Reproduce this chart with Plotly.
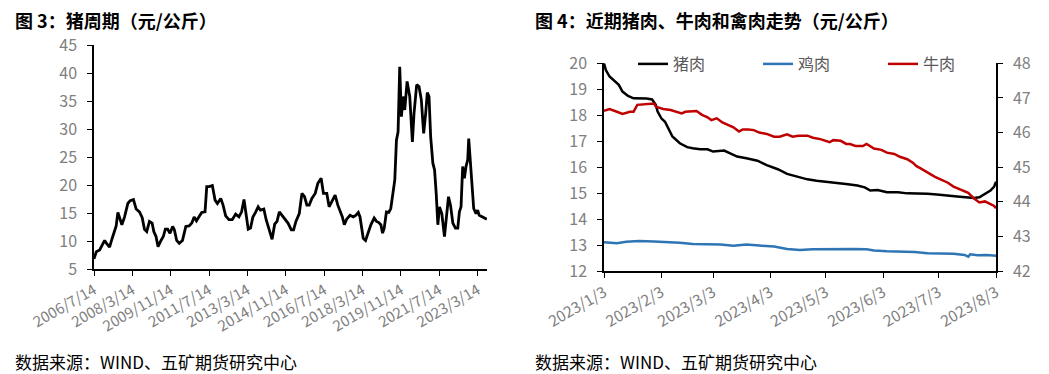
import plotly.graph_objects as go

# ---------------- Left chart: 猪周期 ----------------
pig_dates = [
    "2006-07-14", "2006-08-20", "2006-10-12", "2006-12-04", "2006-12-30", "2007-01-26", "2007-03-18",
    "2007-04-29", "2007-06-05", "2007-07-01", "2007-07-28", "2007-08-23", "2007-09-29", "2007-11-11",
    "2008-01-02", "2008-02-08", "2008-03-31", "2008-05-13", "2008-07-04", "2008-08-16", "2008-09-22",
    "2008-10-28", "2008-12-10", "2009-01-21", "2009-02-17", "2009-03-24", "2009-04-25", "2009-06-11",
    "2009-07-18", "2009-08-19", "2009-09-25", "2009-11-01", "2009-12-13", "2010-01-09", "2010-02-15",
    "2010-03-27", "2010-05-18", "2010-07-10", "2010-08-31", "2010-10-13", "2010-11-19", "2010-12-26",
    "2011-02-07", "2011-03-19", "2011-05-11", "2011-06-07", "2011-07-14", "2011-09-04", "2011-10-17",
    "2011-11-23", "2012-01-15", "2012-02-21", "2012-04-02", "2012-05-24", "2012-07-16", "2012-09-07",
    "2012-10-30", "2012-12-11", "2013-01-18", "2013-02-24", "2013-03-26", "2013-05-02", "2013-06-08",
    "2013-07-20", "2013-08-31", "2013-10-07", "2013-11-29", "2014-01-05", "2014-02-16", "2014-04-09",
    "2014-05-20", "2014-06-26", "2014-08-02", "2014-09-14", "2014-10-26", "2014-12-17", "2015-02-08",
    "2015-03-16", "2015-04-22", "2015-06-14", "2015-07-26", "2015-09-06", "2015-10-13", "2015-11-19",
    "2015-12-31", "2016-02-22", "2016-04-04", "2016-05-26", "2016-07-02", "2016-08-24", "2016-09-30",
    "2016-11-11", "2017-01-03", "2017-02-15", "2017-03-22", "2017-04-28", "2017-05-29", "2017-07-05",
    "2017-08-27", "2017-10-19", "2017-11-30", "2018-01-06", "2018-02-02", "2018-02-28", "2018-03-25",
    "2018-05-01", "2018-06-13", "2018-07-24", "2018-09-15", "2018-10-22", "2018-11-28", "2018-12-30",
    "2019-01-26", "2019-02-21", "2019-03-28", "2019-05-04", "2019-06-05", "2019-07-12", "2019-08-08",
    "2019-09-03", "2019-09-29", "2019-10-25", "2019-11-21", "2019-12-17", "2020-01-13", "2020-02-19",
    "2020-04-01", "2020-05-13", "2020-06-08", "2020-07-20", "2020-08-26", "2020-10-02", "2020-11-08",
    "2020-12-10", "2021-01-05", "2021-02-01", "2021-02-27", "2021-04-03", "2021-04-30", "2021-05-26",
    "2021-06-21", "2021-07-17", "2021-08-23", "2021-10-04", "2021-10-31", "2021-12-07", "2022-01-08",
    "2022-02-14", "2022-03-27", "2022-05-03", "2022-05-29", "2022-06-24", "2022-07-20", "2022-08-16",
    "2022-09-11", "2022-10-08", "2022-10-24", "2022-11-19", "2022-12-16", "2023-01-11", "2023-02-17",
    "2023-03-14", "2023-04-09", "2023-06-01", "2023-08-08",
]
pig_price = [
    6.8, 8.1, 8.4, 9.6, 10.1, 9.6, 8.9,
    10.5, 12.0, 12.7, 15.1, 14.3, 12.9, 14.3,
    16.7, 17.2, 17.4, 15.7, 15.2, 14.2, 12.1,
    11.7, 13.5, 13.2, 11.7, 10.8, 9.0, 10.1,
    10.8, 12.1, 12.1, 11.4, 12.6, 12.0, 10.1,
    9.6, 10.1, 12.6, 12.7, 13.2, 14.3, 13.6,
    14.5, 15.1, 15.2, 19.7, 19.7, 19.9, 17.3,
    16.7, 17.6, 16.4, 14.5, 13.8, 13.8, 14.8,
    14.3, 15.2, 17.4, 14.6, 12.1, 12.3, 14.3,
    15.1, 16.1, 15.5, 15.7, 13.8, 12.1, 10.3,
    13.0, 13.5, 15.2, 14.6, 13.9, 13.2, 12.0,
    12.0, 13.5, 14.9, 18.5, 17.9, 16.4, 16.4,
    17.6, 18.5, 20.3, 21.2, 18.5, 18.5, 16.1,
    17.0, 18.2, 16.4, 15.5, 14.3, 12.9, 13.9,
    14.6, 14.3, 14.6, 15.1, 14.3, 12.6, 10.5,
    10.1, 11.4, 12.9, 14.1, 13.5, 13.3, 12.9,
    11.4, 12.3, 15.2, 15.1, 15.8, 19.1, 20.9,
    28.0, 29.5, 41.1, 32.2, 35.8, 33.4, 38.5,
    35.8, 27.7, 32.8, 37.9, 37.6, 35.2, 29.2,
    32.8, 36.5, 35.8, 28.6, 23.9, 22.7, 18.5,
    12.9, 16.1, 14.9, 10.8, 14.3, 17.9, 16.4,
    13.2, 12.3, 12.3, 15.2, 16.1, 23.3, 21.2,
    23.3, 24.5, 28.3, 24.2, 21.5, 15.8, 14.9,
    15.5, 14.6, 14.3, 13.9,
]
left_tickvals = ["2006-07-14", "2008-03-14", "2009-11-14", "2011-07-14", "2013-03-14", "2014-11-14",
                 "2016-07-14", "2018-03-14", "2019-11-14", "2021-07-14", "2023-03-14"]
left_ticktext = ["2006/7/14", "2008/3/14", "2009/11/14", "2011/7/14", "2013/3/14", "2014/11/14",
                 "2016/7/14", "2018/3/14", "2019/11/14", "2021/7/14", "2023/3/14"]

# ---------------- Right chart: 猪肉 / 鸡肉 / 牛肉 ----------------
pork_dates = [
    "2023-01-03", "2023-01-04", "2023-01-06", "2023-01-09", "2023-01-11", "2023-01-13", "2023-01-16",
    "2023-01-19", "2023-01-22", "2023-01-26", "2023-01-29", "2023-01-31", "2023-02-01", "2023-02-03",
    "2023-02-05", "2023-02-07", "2023-02-09", "2023-02-13", "2023-02-17", "2023-02-20", "2023-02-24",
    "2023-02-28", "2023-03-03", "2023-03-09", "2023-03-12", "2023-03-16", "2023-03-21", "2023-03-27",
    "2023-04-01", "2023-04-07", "2023-04-12", "2023-04-17", "2023-04-23", "2023-04-28", "2023-05-04",
    "2023-05-09", "2023-05-15", "2023-05-20", "2023-05-24", "2023-05-27", "2023-05-31", "2023-06-05",
    "2023-06-11", "2023-06-16", "2023-06-22", "2023-06-27", "2023-07-02", "2023-07-08", "2023-07-13",
    "2023-07-19", "2023-07-22", "2023-07-25", "2023-07-28", "2023-07-31", "2023-08-02", "2023-08-03",
]
pork_price = [
    20.0, 19.74, 19.49, 19.29, 19.17, 18.91, 18.74,
    18.65, 18.65, 18.64, 18.61, 18.40, 18.14, 17.88,
    17.75, 17.46, 17.18, 16.92, 16.77, 16.73, 16.69,
    16.69, 16.60, 16.64, 16.53, 16.41, 16.34, 16.25,
    16.08, 15.92, 15.74, 15.64, 15.53, 15.48, 15.44,
    15.38, 15.34, 15.29, 15.22, 15.10, 15.12, 15.03,
    15.03, 14.99, 14.99, 14.98, 14.95, 14.92, 14.87,
    14.83, 14.81, 14.84, 14.97, 15.10, 15.25, 15.44,
]
chicken_dates = [
    "2023-01-03", "2023-01-10", "2023-01-15", "2023-01-22", "2023-01-30", "2023-02-06", "2023-02-13",
    "2023-02-20", "2023-02-28", "2023-03-07", "2023-03-14", "2023-03-21", "2023-03-28", "2023-04-05",
    "2023-04-12", "2023-04-19", "2023-04-26", "2023-05-04", "2023-05-11", "2023-05-18", "2023-05-25",
    "2023-05-29", "2023-06-05", "2023-06-12", "2023-06-20", "2023-06-27", "2023-07-04", "2023-07-11",
    "2023-07-17", "2023-07-19", "2023-07-20", "2023-07-24", "2023-07-29", "2023-08-03",
]
chicken_price = [
    13.11, 13.07, 13.13, 13.16, 13.14, 13.12, 13.09,
    13.04, 13.04, 13.02, 12.97, 13.02, 12.98, 12.94,
    12.85, 12.81, 12.84, 12.85, 12.85, 12.85, 12.84,
    12.79, 12.76, 12.75, 12.73, 12.68, 12.68, 12.66,
    12.62, 12.55, 12.64, 12.61, 12.62, 12.59,
]
beef_dates = [
    "2023-01-03", "2023-01-06", "2023-01-10", "2023-01-13", "2023-01-17", "2023-01-19", "2023-01-21",
    "2023-01-24", "2023-01-28", "2023-01-30", "2023-01-31", "2023-02-04", "2023-02-08", "2023-02-11",
    "2023-02-14", "2023-02-16", "2023-02-19", "2023-02-22", "2023-02-25", "2023-02-28", "2023-03-02",
    "2023-03-05", "2023-03-08", "2023-03-10", "2023-03-14", "2023-03-17", "2023-03-19", "2023-03-22",
    "2023-03-25", "2023-03-28", "2023-04-01", "2023-04-05", "2023-04-08", "2023-04-12", "2023-04-15",
    "2023-04-18", "2023-04-23", "2023-04-26", "2023-04-30", "2023-05-05", "2023-05-07", "2023-05-11",
    "2023-05-14", "2023-05-16", "2023-05-19", "2023-05-23", "2023-05-25", "2023-05-29", "2023-06-02",
    "2023-06-05", "2023-06-09", "2023-06-12", "2023-06-16", "2023-06-19", "2023-06-21", "2023-06-23",
    "2023-06-27", "2023-07-01", "2023-07-04", "2023-07-08", "2023-07-11", "2023-07-15", "2023-07-19",
    "2023-07-22", "2023-07-25", "2023-07-28", "2023-07-30", "2023-08-02", "2023-08-03",
]
beef_price = [
    46.63, 46.68, 46.60, 46.54, 46.60, 46.60, 46.80,
    46.82, 46.84, 46.84, 46.75, 46.68, 46.65, 46.60,
    46.55, 46.60, 46.60, 46.62, 46.51, 46.44, 46.36,
    46.41, 46.29, 46.25, 46.15, 46.03, 46.09, 46.09,
    46.07, 46.00, 45.96, 45.88, 45.88, 45.95, 45.88,
    45.91, 45.91, 45.85, 45.81, 45.72, 45.78, 45.76,
    45.67, 45.67, 45.61, 45.61, 45.67, 45.54, 45.50,
    45.42, 45.38, 45.30, 45.23, 45.13, 45.03, 44.97,
    44.84, 44.72, 44.65, 44.55, 44.44, 44.34, 44.26,
    44.10, 43.98, 44.01, 43.95, 43.88, 43.81,
]
right_tickvals = ["2023-01-03", "2023-02-03", "2023-03-03", "2023-04-03", "2023-05-03",
                  "2023-06-03", "2023-07-03", "2023-08-03"]
right_ticktext = ["2023/1/3", "2023/2/3", "2023/3/3", "2023/4/3", "2023/5/3",
                  "2023/6/3", "2023/7/3", "2023/8/3"]

# The page body has an 8px margin, so the figure is drawn from (8, 8) of the window.
OFF = 8
WIN_W, WIN_H = 1049, 374
W, H = WIN_W - OFF, WIN_H - OFF
GRAY = "#808080"
FONT = "Noto Sans CJK SC"

def px_x(p):
    return (p - OFF) / W

def px_y(p):
    return (WIN_H - p) / H

fig = go.Figure()
fig.add_trace(go.Scatter(x=pig_dates, y=pig_price, mode="lines", xaxis="x", yaxis="y",
                         line=dict(color="#000000", width=2.8), showlegend=False, name="猪周期"))
fig.add_trace(go.Scatter(x=pork_dates, y=pork_price, mode="lines", xaxis="x2", yaxis="y2",
                         line=dict(color="#000000", width=2.5), name="猪肉"))
fig.add_trace(go.Scatter(x=chicken_dates, y=chicken_price, mode="lines", xaxis="x2", yaxis="y2",
                         line=dict(color="#2E75B6", width=2.5), name="鸡肉"))
fig.add_trace(go.Scatter(x=beef_dates, y=beef_price, mode="lines", xaxis="x2", yaxis="y3",
                         line=dict(color="#C00000", width=2.5), name="牛肉"))

axis_common = dict(showgrid=False, zeroline=False, showline=True, linecolor="#000000", linewidth=1.5,
                   ticks="outside", ticklen=5, tickcolor="#000000", tickwidth=1.2, automargin=False)

fig.update_layout(
    template="none",
    width=W, height=H,
    margin=dict(l=0, r=0, t=0, b=0, pad=0, autoexpand=False),
    paper_bgcolor="white", plot_bgcolor="white",
    font=dict(family=FONT, color=GRAY),
    xaxis=dict(domain=[px_x(94), px_x(487)], anchor="y", type="date",
               range=["2006-07-14", "2023-08-10"], tickmode="array",
               tickvals=left_tickvals, ticktext=left_ticktext, tickangle=-30,
               tickfont=dict(size=15, color=GRAY), **axis_common),
    yaxis=dict(domain=[px_y(269), px_y(45)], anchor="x", range=[5, 45], dtick=5, tick0=5,
               tickfont=dict(size=16, color=GRAY), ticklabelstandoff=7, **axis_common),
    xaxis2=dict(domain=[px_x(604), px_x(996)], anchor="y2", type="date",
                range=["2023-01-03", "2023-08-03"], tickmode="array",
                tickvals=right_tickvals, ticktext=right_ticktext, tickangle=-30,
                tickfont=dict(size=15.5, color=GRAY), **axis_common),
    yaxis2=dict(domain=[px_y(271), px_y(63.3)], anchor="x2", range=[12, 20], dtick=1,
                tickfont=dict(size=16, color=GRAY), ticklabelstandoff=7, **axis_common),
    yaxis3=dict(overlaying="y2", side="right", anchor="x2", range=[42, 48], dtick=1,
                tickfont=dict(size=16, color=GRAY), ticklabelstandoff=7, **axis_common),
    legend=dict(orientation="h", x=px_x(633), xanchor="left", y=px_y(64), yanchor="middle",
                entrywidth=80, entrywidthmode="pixels", bgcolor="rgba(0,0,0,0)",
                font=dict(size=16, color="#595959", family=FONT), itemwidth=30),
    annotations=[
        dict(text="<b>图 3：猪周期（元/公斤）</b>", x=px_x(13), y=px_y(20), xref="paper", yref="paper",
             xanchor="left", yanchor="middle", showarrow=False,
             font=dict(size=18, color="#000000", family=FONT)),
        dict(text="<b>图 4：近期猪肉、牛肉和禽肉走势（元/公斤）</b>", x=px_x(533), y=px_y(20),
             xref="paper", yref="paper", xanchor="left", yanchor="middle", showarrow=False,
             font=dict(size=18, color="#000000", family=FONT)),
        dict(text="数据来源：WIND、五矿期货研究中心", x=px_x(13), y=px_y(361), xref="paper", yref="paper",
             xanchor="left", yanchor="middle", showarrow=False,
             font=dict(size=17, color="#000000", family=FONT)),
        dict(text="数据来源：WIND、五矿期货研究中心", x=px_x(533), y=px_y(361), xref="paper", yref="paper",
             xanchor="left", yanchor="middle", showarrow=False,
             font=dict(size=17, color="#000000", family=FONT)),
    ],
)

fig.write_html("out.html")
